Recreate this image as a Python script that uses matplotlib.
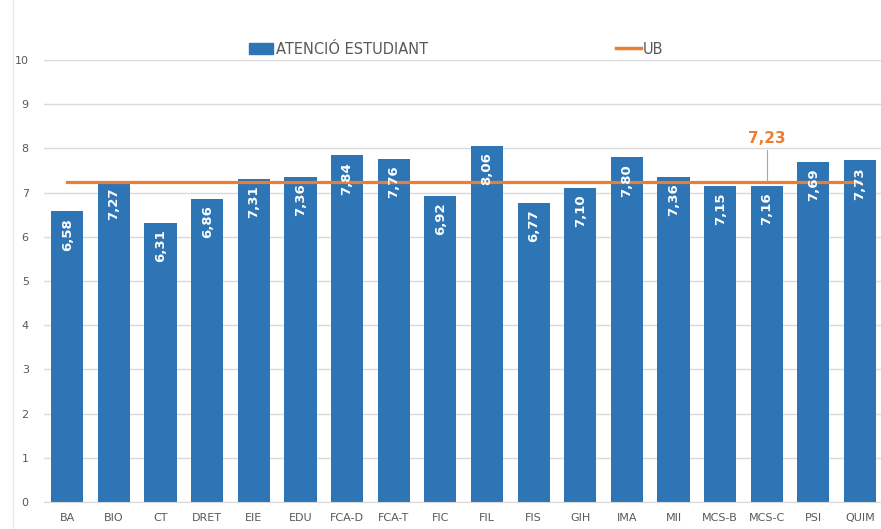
import matplotlib.pyplot as plt
from matplotlib.lines import Line2D
from matplotlib.patches import Patch

# data
categories = ["BA", "BIO", "CT", "DRET", "EIE", "EDU", "FCA-D", "FCA-T", "FIC",
              "FIL", "FIS", "GIH", "IMA", "MII", "MCS-B", "MCS-C", "PSI", "QUIM"]
atencio = [6.58, 7.27, 6.31, 6.86, 7.31, 7.36, 7.84, 7.76, 6.92,
           8.06, 6.77, 7.10, 7.80, 7.36, 7.15, 7.16, 7.69, 7.73]
ub_value = 7.23

blue = "#2E75B6"
orange = "#ED7D31"
grey_txt = "#595959"
grid_col = "#D9D9D9"

W, H = 881, 529
fig = plt.figure(figsize=(W / 100, H / 100), dpi=100)
ax = fig.add_axes([44 / W, 1 - 502 / H, (881 - 44) / W, (502 - 60) / H])

x = list(range(len(categories)))
ax.bar(x, atencio, width=0.69, color=blue, zorder=2)
ax.plot(x, [ub_value] * len(x), color=orange, lw=2.3, zorder=3)

for xi, v in zip(x, atencio):
    ax.text(xi, v - 0.15, f"{v:.2f}".replace(".", ","), rotation=90,
            ha="center", va="top", color="white", fontsize=9.5,
            fontweight="bold", zorder=4)

# UB label with leader line
i_lab = categories.index("MCS-C")
ax.plot([i_lab, i_lab], [ub_value, 7.97], color="#A6A6A6", lw=0.8, zorder=2)
ax.text(i_lab, 8.05, "7,23", ha="center", va="bottom", color=orange,
        fontsize=11, fontweight="bold")

ax.set_xlim(-0.5, 17.45)
ax.set_ylim(0, 10)
ax.set_yticks(range(0, 11))
ax.set_xticks(x)
ax.set_xticklabels(categories)
ax.tick_params(axis="both", length=0, labelsize=8, colors=grey_txt)
ax.tick_params(axis="y", pad=11)
ax.tick_params(axis="x", pad=8)
ax.yaxis.grid(True, color=grid_col, lw=1)
ax.set_axisbelow(True)
for s in ["top", "right", "left"]:
    ax.spines[s].set_visible(False)
ax.spines["bottom"].set_color(grid_col)

# legend
handles = [Patch(color=blue), Line2D([0], [0], color=orange, lw=2.5)]
fig.legend(handles, ["ATENCIÓ ESTUDIANT", "UB"], loc="center",
           bbox_to_anchor=(456 / W, 1 - 49 / H), ncol=2, frameon=False,
           fontsize=10.5, labelcolor=grey_txt, handlelength=1.7,
           handletextpad=0.15, columnspacing=12.9)

# faint frame line on the left
fig.add_artist(Line2D([13 / W, 13 / W], [0, 1], color="#E6E6E6", lw=1))

fig.savefig("out.png", dpi=100)
